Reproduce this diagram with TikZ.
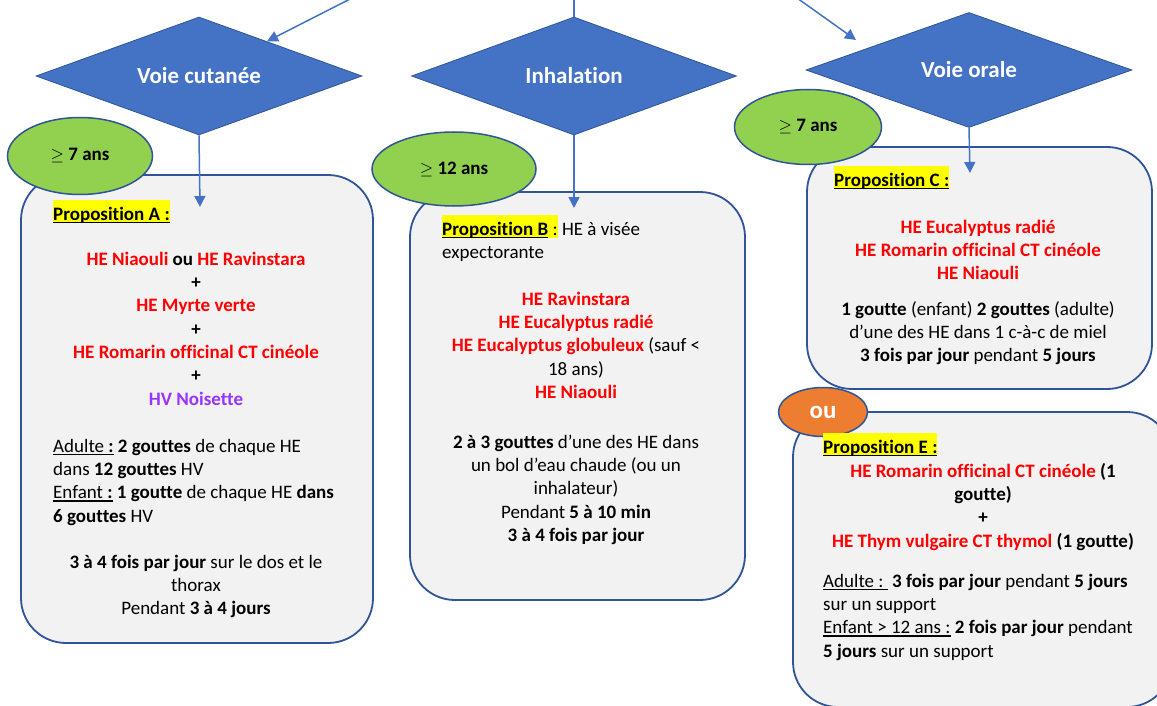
\documentclass[tikz,border=0pt]{standalone}
\usepackage{fontspec}
\setmainfont{Carlito}[Ligatures=NoCommon]
\usetikzlibrary{arrows.meta}
\usetikzlibrary{shapes.geometric}

\definecolor{bleu}{HTML}{4472C4}
\definecolor{bleufonce}{HTML}{2F5597}
\definecolor{vert}{HTML}{92D050}
\definecolor{orangeou}{HTML}{ED7D31}
\definecolor{gris}{HTML}{F2F2F2}
\definecolor{rougeHE}{HTML}{FF0000}
\definecolor{mauve}{HTML}{9933FF}
\definecolor{jaune}{HTML}{FFFF00}

\newcommand\rouge[1]{\textcolor{rougeHE}{#1}}
\newcommand\hautligne{\rule{0pt}{20pt}}
\newcommand\souligne[1]{\leavevmode\setbox0\hbox{#1}\rlap{\rule[-3pt]{\wd0}{1.6pt}}\box0\relax}
\newcommand\surligne[1]{\leavevmode\setbox0\hbox{#1}\rlap{\textcolor{jaune}{\rule[-3pt]{\wd0}{23pt}}}\box0\relax}

\begin{document}
\begin{tikzpicture}[x=1pt, y=-1pt,
  losange/.style={diamond, aspect=2.76, draw=bleufonce, line width=0.8pt, fill=bleu,
    text=white, font=\fontsize{23}{28}\selectfont\bfseries, inner sep=0pt},
  age/.style={ellipse, draw=bleufonce, line width=1.5pt, fill=vert, inner sep=0pt,
    font=\fontsize{19}{23.3}\selectfont},
  cadre/.style={rectangle, rounded corners=45pt, draw=bleufonce, line width=1.8pt, fill=gris},
  texte/.style={inner sep=0pt, font=\fontsize{19}{23.3}\selectfont},
  fleche/.style={draw=bleu, line width=1.5pt, -{Triangle[length=11pt,width=11pt]}}]
\useasboundingbox (0,0) rectangle (1157,706);
\clip (0,0) rectangle (1157,706);

\node[cadre, minimum width=352pt, minimum height=468pt] (boxA) at (197,409) {};
\node[cadre, minimum width=335pt, minimum height=408pt] (boxB) at (577.5,396) {};
\node[cadre, minimum width=345pt, minimum height=242pt] (boxC) at (979.5,268) {};
\node[cadre, minimum width=379pt, minimum height=295pt] (boxE) at (982.5,559.5) {};

\node[age, minimum width=145pt, minimum height=77pt] (ageA) at (80,156) {$\geq$ \textbf{7 ans}};
\node[age, minimum width=164pt, minimum height=74pt] (ageB) at (454,169) {$\geq$ \textbf{12 ans}};
\node[age, minimum width=147pt, minimum height=75pt] (ageC) at (808,127) {$\geq$ \textbf{7 ans}};
\node[ellipse, draw=bleufonce, line width=1.5pt, fill=orangeou, text=white, inner sep=0pt,
  minimum width=89pt, minimum height=49pt, font=\fontsize{25}{28}\selectfont\bfseries]
  (ou) at (823,412) {ou};

\node[losange, minimum width=326pt, minimum height=118pt] (losA) at (199,76) {Voie cutanée};
\node[losange, minimum width=325pt, minimum height=118pt] (losB) at (574,76) {Inhalation};
\node[losange, minimum width=326pt, minimum height=115pt] (losC) at (969,70) {Voie orale};

\coordinate (srcA) at (352,-2);
\coordinate (srcB) at (574,-2);
\coordinate (srcC) at (797,-2);
\coordinate (finC0) at (856,40);
\coordinate (finA) at (200,207);
\coordinate (finB) at (574,208);
\coordinate (finC) at (970,173);
\draw[fleche] (srcA) -- (losA);
\draw[draw=bleu, line width=1.5pt] (srcB) -- (losB.north);
\draw[fleche] (srcC) -- (finC0);
\draw[fleche] (losA.south) -- (finA);
\draw[fleche] (losB.south) -- (finB);
\draw[fleche] (losC.south) -- (finC);

\node[texte, anchor=north west] (propA) at (53,200)
  {\hautligne\surligne{\souligne{\textbf{Proposition A :}}}};
\node[texte, anchor=north, align=center, font=\fontsize{19}{23.3}\selectfont\bfseries] (huilesA) at (196,245)
  {\hautligne\rouge{HE Niaouli} ou \rouge{HE Ravinstara}\\+\\\rouge{HE Myrte verte}\\+\\
   \rouge{HE Romarin officinal CT cinéole}\\+\\\textcolor{mauve}{HV Noisette}};
\node[texte, anchor=north west, align=left] (doseA) at (53,432)
  {\hautligne\souligne{Adulte \textbf{:}} \textbf{2 gouttes} de chaque HE\\
   dans \textbf{12 gouttes} HV\\
   \souligne{Enfant \textbf{:}} \textbf{1 goutte} de chaque HE \textbf{dans}\\
   \textbf{6 gouttes} HV};
\node[texte, anchor=north, align=center] (freqA) at (196,548)
  {\hautligne\textbf{3 à 4 fois par jour} sur le dos et le\\thorax\\Pendant \textbf{3 à 4 jours}};

\node[texte, anchor=north west, align=left] (propB) at (442,215)
  {\hautligne\surligne{\souligne{\textbf{Proposition B}} :} HE à visée\\expectorante};
\node[texte, anchor=north, align=center] (huilesB) at (576,285)
  {\hautligne\rouge{\textbf{HE Ravinstara}}\\\rouge{\textbf{HE Eucalyptus radié}}\\
   \rouge{\textbf{HE Eucalyptus globuleux}} (sauf <\\18 ans)\\\rouge{\textbf{HE Niaouli}}};
\node[texte, anchor=north, align=center] (doseB) at (576,428)
  {\hautligne\textbf{2 à 3 gouttes} d’une des HE dans\\un bol d’eau chaude (ou un\\inhalateur)\\
   Pendant \textbf{5 à 10 min}\\\textbf{3 à 4 fois par jour}};

\node[texte, anchor=north west] (propC) at (834,166)
  {\hautligne\surligne{\souligne{\textbf{Proposition C :}}}};
\node[texte, anchor=north, align=center, font=\fontsize{19}{23.3}\selectfont\bfseries] (huilesC) at (978,213)
  {\hautligne\rouge{HE Eucalyptus radié}\\\rouge{HE Romarin officinal CT cinéole}\\\rouge{HE Niaouli}};
\node[texte, anchor=north, align=center] (doseC) at (978,295)
  {\hautligne\textbf{1 goutte} (enfant) \textbf{2 gouttes} (adulte)\\d’une des HE dans 1 c-à-c de miel\\
   \textbf{3 fois par jour} pendant \textbf{5 jours}};

\node[texte, anchor=north west] (propE) at (823,433)
  {\hautligne\surligne{\souligne{\textbf{Proposition E :}}}};
\node[texte, anchor=north, align=center, font=\fontsize{19}{23.3}\selectfont\bfseries] (huilesE) at (983,457)
  {\hautligne\rouge{HE Romarin officinal CT cinéole} (1\\goutte)\\+\\\rouge{HE Thym vulgaire CT thymol} (1 goutte)};
\node[texte, anchor=north west, align=left] (doseE) at (823,567)
  {\hautligne\souligne{Adulte :\ }\ \textbf{3 fois par jour} pendant \textbf{5 jours}\\sur un support\\
   \souligne{Enfant > 12 ans :} \textbf{2 fois par jour} pendant\\\textbf{5 jours} sur un support};
\end{tikzpicture}
\end{document}
